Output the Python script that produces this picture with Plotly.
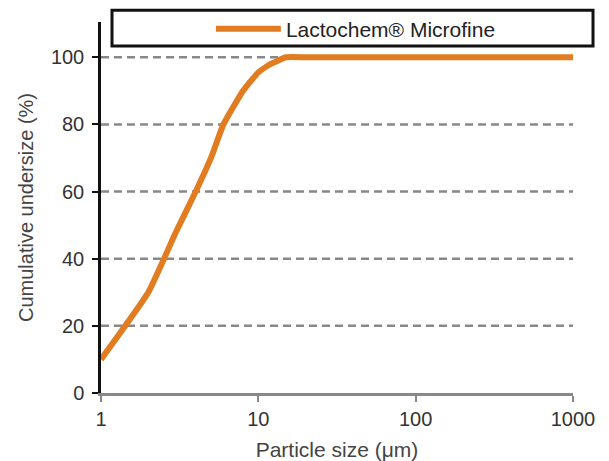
import plotly.graph_objects as go

particle_size = [1, 2, 3, 4, 5, 6, 8, 10, 12, 15, 20, 50, 100, 1000]
cumulative = [10, 30, 48, 60, 70, 80, 90, 95.5, 98, 100, 100, 100, 100, 100]
series_name = "Lactochem® Microfine"
y_ticks = [0, 20, 40, 60, 80, 100]
x_ticks = [1, 10, 100, 1000]

fig = go.Figure()
fig.add_trace(go.Scatter(
    x=particle_size, y=cumulative, mode="lines", name=series_name,
    line=dict(color="#E27C20", width=6, shape="spline", smoothing=0.4),
))

font = "Liberation Sans, Arial, sans-serif"
fig.update_layout(
    width=609, height=461,
    margin=dict(l=101, r=36, t=22, b=68, autoexpand=False),
    plot_bgcolor="white", paper_bgcolor="white",
    font=dict(family=font, size=20, color="#333"),
    showlegend=True,
    legend=dict(x=0.54, y=0.981, xanchor="center", yanchor="middle",
                xref="paper", yref="paper",
                bgcolor="rgba(0,0,0,0)", font=dict(size=21, color="#222"),
                itemwidth=65),
    xaxis=dict(type="log", range=[0, 3], tickvals=x_ticks,
               ticktext=[str(v) for v in x_ticks],
               tickfont=dict(size=20, color="#333"),
               showgrid=False, showline=True, linecolor="#888", linewidth=3,
               ticks="outside", ticklen=6, tickcolor="#888", tickwidth=2,
               zeroline=False,
               title=dict(text="Particle size (μm)", font=dict(size=21, color="#444"), standoff=14)),
    yaxis=dict(range=[0, 110.5], tickvals=y_ticks,
               tickfont=dict(size=20, color="#333"),
               ticklabelstandoff=4,
               showgrid=False, showline=True, linecolor="#111", linewidth=2.5,
               ticks="outside", ticklen=6, tickcolor="#111", tickwidth=2,
               zeroline=False,
               title=dict(text="Cumulative undersize (%)", font=dict(size=20, color="#444"), standoff=12)),
)

for v in y_ticks[1:]:
    fig.add_shape(type="line", xref="paper", x0=0, x1=1, yref="y", y0=v, y1=v,
                  line=dict(color="#888", width=2.5, dash="8px,5px"), layer="below")

fig.add_shape(type="rect", xref="paper", yref="paper", x0=0.0233, x1=1.0424,
              y0=0.935, y1=1.032, line=dict(color="#111", width=3),
              fillcolor="white", layer="above")

fig.write_html("out.html")
